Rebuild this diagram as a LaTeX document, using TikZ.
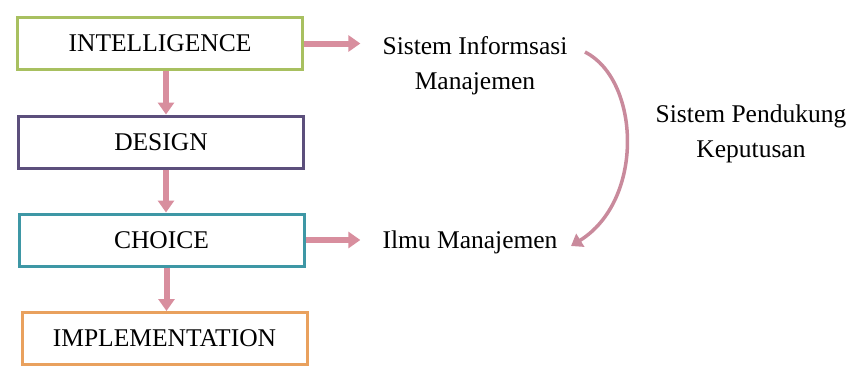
\documentclass[tikz,border=0pt]{standalone}
\usepackage{fontspec}
\setmainfont{Liberation Serif}
\usetikzlibrary{arrows.meta}
\definecolor{cGreen}{HTML}{A8C060}
\definecolor{cPurple}{HTML}{5C4F7C}
\definecolor{cTeal}{HTML}{3E97A5}
\definecolor{cOrange}{HTML}{E9A15E}
\definecolor{cPink}{HTML}{D88E9E}
\definecolor{cCurve}{HTML}{C98A9C}
\begin{document}
\begin{tikzpicture}[x=1pt,y=-1pt,
  phase/.style={draw=#1,line width=3pt,fill=white,minimum width=285pt,minimum height=52pt,inner sep=0pt,
    font=\fontsize{25.5}{35}\selectfont},
  lbl/.style={align=center,inner sep=0pt,font=\fontsize{25.5}{35}\selectfont},
  flow/.style={draw=cPink,line width=6pt,-{Triangle[length=12pt,width=16pt]}},
  arcline/.style={draw=cCurve,line width=3.5pt,-{Triangle[length=11pt,width=15pt]}}]
\useasboundingbox (0,0) rectangle (854,367);
% decision phases
\node[phase=cGreen]  (intel)  at (160,43.5) {INTELLIGENCE};
\node[phase=cPurple] (design) at (161,142)  {DESIGN};
\node[phase=cTeal]   (choice) at (161.5,240) {CHOICE};
\node[phase=cOrange] (impl)   at (164.5,338.5) {IMPLEMENTATION};
% supporting systems
\node[lbl] (sim)  at (475,66)  {Sistem Informsasi\\Manajemen};
\node[lbl] (ilmu) at (470,242) {Ilmu Manajemen};
\node[lbl] (spk)  at (751,134) {Sistem Pendukung\\Keputusan};
% flow between phases (straight down, a little right of centre)
\draw[flow] ([xshift=6pt]intel.south) -- ([xshift=6pt]intel.south |- design.north);
\draw[flow] ([xshift=5pt]design.south) -- ([xshift=5pt]design.south |- choice.north);
\draw[flow] ([xshift=5pt]choice.south) -- ([xshift=5pt]choice.south |- impl.north);
\draw[flow,shorten >=22pt] (intel.east) -- (intel.east -| sim.west);
\draw[flow,shorten >=22pt] (choice.east) -- (choice.east -| ilmu.west);
% arc spanning from SIM to management science
\coordinate (arcA) at (585,52);
\coordinate (arcB) at (571,246);
\draw[arcline] (arcA) .. controls (640,80) and (645,200) .. (arcB);
\end{tikzpicture}
\end{document}
